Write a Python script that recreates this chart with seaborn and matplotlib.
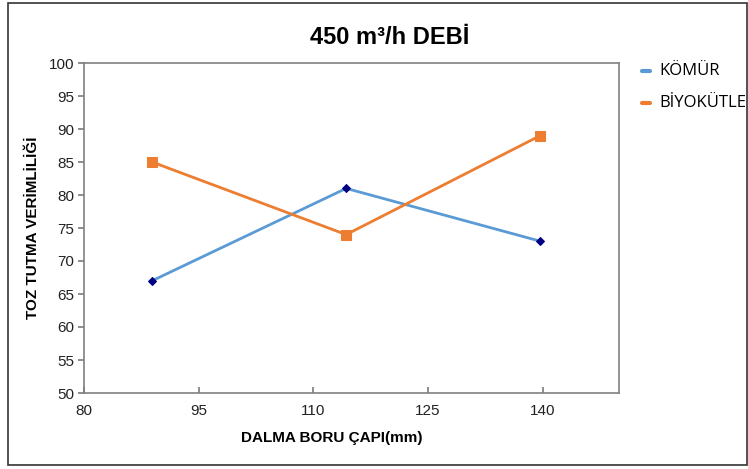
import matplotlib
matplotlib.use("Agg")
import matplotlib.pyplot as plt
from matplotlib.patches import Rectangle
import seaborn as sns
import pandas as pd

# Pipe diameters (mm) and dust collection efficiency per fuel
diameters = [88.9, 114.3, 139.7]
komur = [67, 81, 73]
biyokutle = [85, 74, 89]
series_names = ["KÖMÜR", "BİYOKÜTLE"]
x_ticks = [80, 95, 110, 125, 140]
y_ticks = [50, 55, 60, 65, 70, 75, 80, 85, 90, 95, 100]

df = pd.DataFrame({
    "cap": diameters * 2,
    "verim": komur + biyokutle,
    "seri": [series_names[0]] * 3 + [series_names[1]] * 3,
})

sns.set_theme(style="white")
plt.rcParams["font.family"] = ["Liberation Sans", "DejaVu Sans"]

W, H = 748, 469
fig = plt.figure(figsize=(W / 100, H / 100), dpi=100)
ax = fig.add_axes([84 / W, 1 - 393 / H, (619 - 84) / W, (393 - 63) / H])

blue = "#5B9BD5"
orange = "#ED7D31"

sns.lineplot(data=df[df.seri == series_names[0]], x="cap", y="verim", ax=ax,
             color=blue, linewidth=2, marker="D", markersize=4.5,
             markerfacecolor="#000080", markeredgecolor="#000080", legend=False)
sns.lineplot(data=df[df.seri == series_names[1]], x="cap", y="verim", ax=ax,
             color=orange, linewidth=2, marker="s", markersize=6.5,
             markerfacecolor=orange, markeredgecolor=orange, legend=False)

ax.set_xlim(80, 150)
ax.set_ylim(50, 100)
ax.set_xticks(x_ticks)
ax.set_yticks(y_ticks)
ax.set_xlabel("")
ax.set_ylabel("")
ax.tick_params(axis="both", labelsize=11, colors="#222222")
ax.tick_params(axis="x", direction="in", length=4, color="#808080", pad=8)
ax.tick_params(axis="y", direction="out", length=4, color="#808080", pad=3)
ax.xaxis.set_ticks_position("bottom")
ax.yaxis.set_ticks_position("left")
for s in ax.spines.values():
    s.set_color("#808080")
    s.set_linewidth(1.2)

fig.text(390 / W, 1 - 37 / H, "450 m³/h DEBİ", ha="center", va="center",
         fontsize=17, fontweight="bold", color="black")
fig.text(332 / W, 1 - 438 / H, "DALMA BORU ÇAPI(mm)", ha="center", va="center",
         fontsize=11, fontweight="bold", color="black")
fig.text(33 / W, 1 - 228 / H, "TOZ TUTMA VERİMLİLİĞİ", ha="center", va="center",
         rotation=90, fontsize=11, fontweight="bold", color="black")

# Legend entries: short colored dash followed by the series name
for name, col, yy in [(series_names[0], blue, 71), (series_names[1], orange, 103)]:
    fig.add_artist(plt.Line2D([642 / W, 650 / W], [1 - yy / H, 1 - yy / H],
                              color=col, linewidth=3, transform=fig.transFigure))
    fig.text(659 / W, 1 - yy / H, name, ha="left", va="center",
             fontsize=12, color="black", family=["Open Sans", "DejaVu Sans"])

# Chart frame
fig.add_artist(Rectangle((8 / W, 1 - 465 / H), (747 - 8) / W, (465 - 3) / H,
                         transform=fig.transFigure, fill=False,
                         edgecolor="#333333", linewidth=1.2))

fig.savefig("out.png", dpi=100)
